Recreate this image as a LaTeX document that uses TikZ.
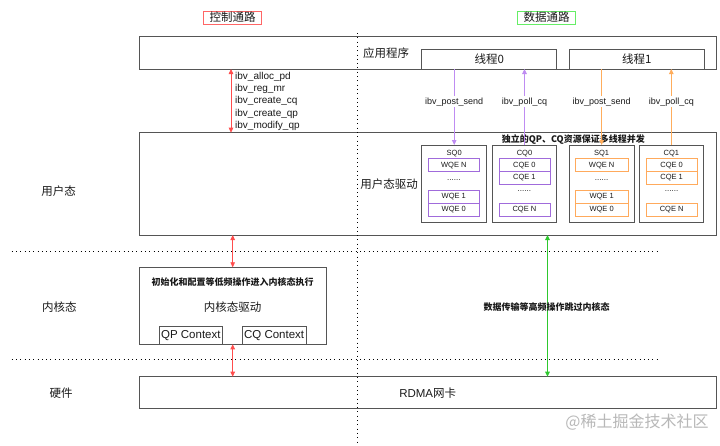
\documentclass[tikz,border=0pt]{standalone}
\usepackage{fontspec}
\setmainfont{Liberation Sans}
\newfontfamily\cjk{Noto Sans CJK SC}
\usetikzlibrary{arrows.meta}
\definecolor{boxgray}{HTML}{555555}
\definecolor{txt}{HTML}{1A1A1A}
\definecolor{redarr}{HTML}{FF4D4D}
\definecolor{redbox}{HTML}{FF6666}
\definecolor{greenarr}{HTML}{2EC82E}
\definecolor{greenbox}{HTML}{66EE66}
\definecolor{purparr}{HTML}{BF8CF2}
\definecolor{purpbox}{HTML}{A06BDB}
\definecolor{orgarr}{HTML}{FFAD5C}
\definecolor{orgbox}{HTML}{FFAA5C}
\definecolor{wmark}{HTML}{B8B8B8}
\newcommand{\fsz}[2]{\fontsize{#1}{#2}\selectfont}
\tikzset{
  obox/.style={draw=boxgray, line width=1pt, inner sep=0pt, outer sep=0pt},
  qbox/.style={draw=boxgray, line width=0.9pt, inner sep=0pt, outer sep=0pt, minimum height=77.3pt},
  pent/.style={draw=purpbox, line width=0.8pt, inner sep=0pt, outer sep=0pt, minimum height=12.6pt, minimum width=51pt, font=\fsz{7.5}{9}, text=txt},
  oent/.style={draw=orgbox, line width=0.8pt, inner sep=0pt, outer sep=0pt, minimum height=12.6pt, minimum width=52pt, font=\fsz{7.5}{9}, text=txt},
  lbl/.style={inner sep=0pt, text=txt, font=\cjk\fsz{11.5}{14}},
  blbl/.style={inner sep=0pt, text=txt, font=\cjk\bfseries\fsz{9}{11}},
  small/.style={inner sep=0pt, text=txt, font=\fsz{7.5}{9}},
  dots/.style={inner sep=0pt, text=txt, font=\fsz{8}{9}},
  alabel/.style={fill=white, inner sep=1pt, text=txt, font=\fsz{9}{11}},
  dotl/.style={line width=1pt, dash pattern=on 1pt off 3.3pt, draw=black},
}
\begin{document}
\begin{tikzpicture}[x=1pt,y=-1pt]
\useasboundingbox (0,0) rectangle (720,445);
\fill[white] (0,0) rectangle (720,445);

% titles
\node[lbl, draw=redbox, line width=0.8pt, minimum width=58.4pt, minimum height=13pt] (ctrl) at (232.5,17.5) {控制通路};
\node[lbl, draw=greenbox, line width=0.8pt, minimum width=58pt, minimum height=13pt] (data) at (546.7,17.5) {数据通路};

% application layer
\node[obox, minimum width=576.5pt, minimum height=32.3pt] (app) at (427.75,52.85) {};
\node[lbl] (appt) at (386,53.3) {应用程序};
\node[obox, minimum width=135pt, minimum height=19.7pt, font=\cjk\fsz{11.5}{14}, text=txt] (t0) at (489.2,59.15) {线程0};
\node[obox, minimum width=135pt, minimum height=19.7pt, font=\cjk\fsz{11.5}{14}, text=txt] (t1) at (636.8,59.15) {线程1};

% user-space driver
\node[obox, minimum width=576.5pt, minimum height=102.3pt] (ud) at (427.75,183.85) {};
\node[lbl] (udt) at (389,184) {用户态驱动};
\node[blbl] (udtitle) at (573.3,140) {独立的QP、CQ资源保证多线程并发};

\node[qbox, minimum width=65pt] (sq0) at (454.2,183.65) {};
\node[qbox, minimum width=64.4pt] (cq0) at (524.5,183.65) {};
\node[qbox, minimum width=64.7pt] (sq1) at (601.65,183.65) {};
\node[qbox, minimum width=64pt] (cq1) at (671.3,183.65) {};

\node[small] (sq0l) at (454.2,154) {SQ0};
\node[small] (cq0l) at (524.5,154) {CQ0};
\node[small] (sq1l) at (601.65,154) {SQ1};
\node[small] (cq1l) at (671.3,154) {CQ1};

\node[pent] (sq0a) at (453.8,165.15) {WQE N};
\node[dots] (sq0d) at (453.8,180) {......};
\node[pent] (sq0b) at (453.8,197) {WQE 1};
\node[pent] (sq0c) at (453.8,209.6) {WQE 0};

\node[pent] (cq0a) at (524.4,165.15) {CQE 0};
\node[pent] (cq0b) at (524.4,177.75) {CQE 1};
\node[dots] (cq0d) at (524.4,191) {......};
\node[pent] (cq0c) at (524.4,209.6) {CQE N};

\node[oent, minimum width=53.3pt] (sq1a) at (601.65,165.15) {WQE N};
\node[dots] (sq1d) at (601.65,180) {......};
\node[oent, minimum width=53.3pt] (sq1b) at (601.65,197) {WQE 1};
\node[oent, minimum width=53.3pt] (sq1c) at (601.65,209.6) {WQE 0};

\node[oent, minimum width=51.3pt] (cq1a) at (671.65,165.15) {CQE 0};
\node[oent, minimum width=51.3pt] (cq1b) at (671.65,177.75) {CQE 1};
\node[dots] (cq1d) at (671.65,191) {......};
\node[oent, minimum width=51.3pt] (cq1c) at (671.65,209.6) {CQE N};

% kernel
\node[obox, minimum width=186.5pt, minimum height=77pt] (kd) at (232.75,305.8) {};
\node[blbl] (kdtitle) at (232.5,281.7) {初始化和配置等低频操作进入内核态执行};
\node[lbl] (kdt) at (232.7,306.7) {内核态驱动};
\node[obox, minimum width=63.7pt, minimum height=18.3pt, font=\fsz{11.5}{14}, text=txt] (qpc) at (190.85,335.15) {QP Context};
\node[obox, minimum width=63.7pt, minimum height=18.3pt, font=\fsz{11.5}{14}, text=txt] (cqc) at (274.15,335.15) {CQ Context};

% hardware
\node[obox, minimum width=576.5pt, minimum height=32pt] (rdma) at (427.75,392.7) {};
\node[lbl] (rdmat) at (427.7,392.7) {\fontspec{Liberation Sans}RDMA\cjk 网卡};

% side labels
\node[lbl] (lu) at (58.7,190.7) {用户态};
\node[lbl] (lk) at (59.3,306.7) {内核态};
\node[lbl] (lh) at (61,393) {硬件};

% dotted separators
\coordinate (vtop) at (357.7,33);
\coordinate (vbot) at (357.7,445);
\coordinate (h1a) at (11.7,251.7);
\coordinate (h1b) at (659,251.7);
\coordinate (h2a) at (11.7,359.5);
\coordinate (h2b) at (659,359.5);
\draw[dotl] (vtop) -- (vbot);
\draw[dotl] (h1a) -- (h1b);
\draw[dotl] (h2a) -- (h2b);

% control path arrows
\coordinate (rx1) at (231,0);
\coordinate (rx2) at (232.7,0);
\draw[redarr, line width=0.8pt, {Triangle[length=5pt,width=4.5pt]}-{Triangle[length=5pt,width=4.5pt]}] (app.south -| rx1) -- (ud.north -| rx1);
\draw[redarr, line width=0.8pt, {Triangle[length=5pt,width=4.5pt]}-{Triangle[length=5pt,width=4.5pt]}] (ud.south -| rx2) -- (kd.north -| rx2);
\draw[redarr, line width=0.8pt, {Triangle[length=5pt,width=4.5pt]}-{Triangle[length=5pt,width=4.5pt]}] (kd.south -| rx2) -- (rdma.north -| rx2);
\node[anchor=west, align=left, inner sep=0pt, text=txt, font=\fsz{10}{12.3}] (ibvlist) at (235,101.3) {ibv\_alloc\_pd\\ibv\_reg\_mr\\ibv\_create\_cq\\ibv\_create\_qp\\ibv\_modify\_qp};

% data path arrows
\draw[purparr, line width=0.9pt, -{Triangle[length=5pt,width=4.5pt]}] (t0.south -| sq0.north) -- node[alabel, pos=0.43] (ps0) {ibv\_post\_send} (sq0.north);
\draw[purparr, line width=0.9pt, -{Triangle[length=5pt,width=4.5pt]}] (cq0.north) -- node[alabel, pos=0.57] (pc0) {ibv\_poll\_cq} (t0.south -| cq0.north);
\draw[orgarr, line width=0.9pt, -{Triangle[length=5pt,width=4.5pt]}] (t1.south -| sq1.north) -- node[alabel, pos=0.43] (ps1) {ibv\_post\_send} (sq1.north);
\draw[orgarr, line width=0.9pt, -{Triangle[length=5pt,width=4.5pt]}] (cq1.north) -- node[alabel, pos=0.57] (pc1) {ibv\_poll\_cq} (t1.south -| cq1.north);

\coordinate (gx) at (547.5,0);
\draw[draw=greenarr, fill=greenarr, line width=1pt, {Triangle[length=5pt,width=4.5pt]}-{Triangle[length=5pt,width=4.5pt]}] (ud.south -| gx) -- (rdma.north -| gx);
\node[blbl] (fast) at (546.7,306.7) {数据传输等高频操作跳过内核态};

% watermark
\node[inner sep=0pt, text=wmark, font=\cjk\fsz{16}{18}] (wm) at (637,421.7) {@稀土掘金技术社区};
\end{tikzpicture}
\end{document}
